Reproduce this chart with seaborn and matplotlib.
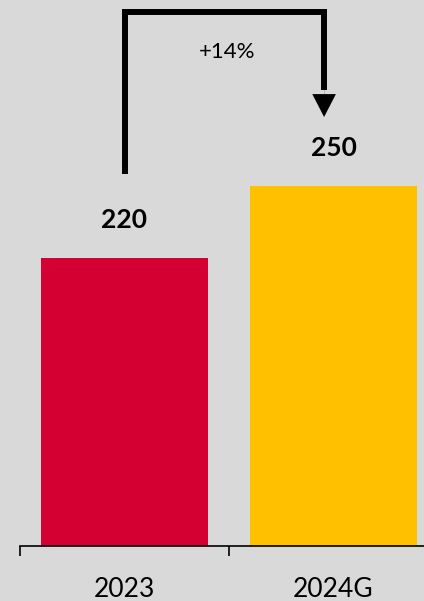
import matplotlib
matplotlib.use("Agg")
import matplotlib.pyplot as plt
import seaborn as sns
import pandas as pd

# Werte aus dem Diagramm
jahre = ["2023", "2024G"]
werte = [220, 250]
farben = ["#D50032", "#FFC000"]

sns.set_style("white")
plt.rcParams["font.family"] = ["Lato", "DejaVu Sans"]

df = pd.DataFrame({"jahr": jahre, "wert": werte})

fig = plt.figure(figsize=(4.24, 6.01), dpi=100, facecolor="#D9D9D9")
ax = fig.add_axes([20 / 424, 55 / 601, 418 / 424, 546 / 601])
ax.set_facecolor("#D9D9D9")

sns.barplot(data=df, x="jahr", y="wert", hue="jahr", palette=farben,
            width=0.8, legend=False, saturation=1, linewidth=0,
            edgecolor="none", ax=ax)

ax.set_xlim(-0.5, 1.5)
ax.set_ylim(100, 327.5)

# Wertbeschriftungen
for i, v in enumerate(werte):
    ax.text(i, v + 16, str(v), ha="center", va="center",
            fontsize=19, fontweight="bold", color="black")

# Pfeil mit Veränderung
x_end = 0.955
y_top = 322.5
ax.plot([0, 0, x_end, x_end], [werte[0] + 35, y_top, y_top, 290],
        color="black", lw=4.3, solid_joinstyle="miter", solid_capstyle="butt")
ax.annotate("", xy=(x_end, werte[1] + 28.75), xytext=(x_end, 292),
            arrowprops=dict(width=0.1, headwidth=17, headlength=16.5,
                            shrink=0, color="black", linewidth=0))
pct = (werte[1] / werte[0] - 1) * 100
ax.text(0.49, 305.8, f"+{pct:.0f}%", ha="center", va="center",
        fontsize=16, color="black")

# Achsen
sns.despine(ax=ax, left=True, top=True, right=True)
ax.spines["bottom"].set_color("black")
ax.spines["bottom"].set_linewidth(1.2)
ax.set_yticks([])
ax.set_xlabel("")
ax.set_ylabel("")
ax.set_xticks([-0.5, 0.5], minor=True)
ax.tick_params(axis="x", which="minor", length=7, width=1.2, color="black",
               direction="out", bottom=True)
ax.tick_params(axis="x", which="major", length=0, pad=22, labelsize=19,
               labelcolor="black")

fig.savefig("out.png", dpi=100, facecolor=fig.get_facecolor())
